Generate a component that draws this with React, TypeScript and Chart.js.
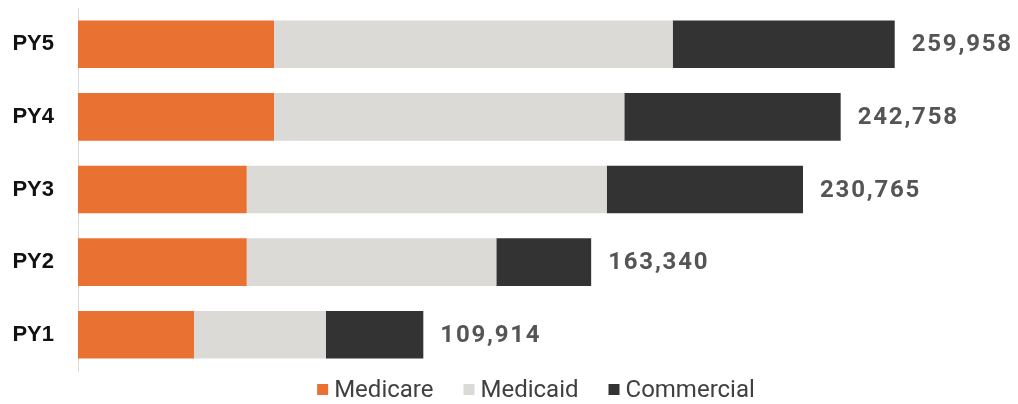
import React, { useEffect, useRef } from "react";
import { Chart, registerables } from "chart.js";

Chart.register(...registerables);

const categories = ["PY5", "PY4", "PY3", "PY2", "PY1"];
const medicare = [62390, 62390, 53700, 53700, 36920];
const medicaid = [126900, 111500, 114590, 79450, 42020];
const commercial = [70668, 68868, 62475, 30190, 30974];
const totals = [259958, 242758, 230765, 163340, 109914];
const seriesNames = ["Medicare", "Medicaid", "Commercial"];
const seriesColors = ["#E97132", "#DCDAD7", "#333333"];

const totalsPlugin = {
  id: "totalsLabels",
  afterDatasetsDraw(chart: any) {
    const ctx = chart.ctx;
    const meta = chart.getDatasetMeta(chart.data.datasets.length - 1);
    ctx.save();
    ctx.font = "bold 24px Roboto";
    (ctx as any).letterSpacing = "1.8px";
    ctx.fillStyle = "#555555";
    ctx.textAlign = "left";
    ctx.textBaseline = "middle";
    meta.data.forEach((el: any, i: number) => {
      ctx.fillText(totals[i].toLocaleString("en-US"), el.x + 17, el.y + 1);
    });
    ctx.restore();
  },
};

const legendPlugin = {
  id: "customLegend",
  afterDraw(chart: any) {
    const ctx = chart.ctx;
    ctx.save();
    ctx.font = "24px Roboto";
    const box = 11;
    const gapText = 6;
    const gapItem = 30;
    const items = chart.data.datasets.map((d: any) => ({
      label: d.label,
      color: d.backgroundColor,
      w: ctx.measureText(d.label).width,
    }));
    const total =
      items.reduce((s: number, it: any) => s + box + gapText + it.w, 0) +
      gapItem * (items.length - 1);
    let x = chart.width / 2 + 27 - total / 2;
    const baseline = chart.height - 7;
    items.forEach((it: any) => {
      ctx.fillStyle = it.color;
      ctx.fillRect(x, baseline - 13, box, box);
      x += box + gapText;
      ctx.fillStyle = "#404040";
      ctx.textBaseline = "alphabetic";
      ctx.fillText(it.label, x, baseline);
      x += it.w + gapItem;
    });
    ctx.restore();
  },
};

export default function App() {
  const canvasRef = useRef<HTMLCanvasElement | null>(null);

  useEffect(() => {
    document.body.style.margin = "0";
    const canvas = canvasRef.current;
    if (!canvas) return;
    const chart = new Chart(canvas, {
      type: "bar",
      data: {
        labels: categories,
        datasets: [medicare, medicaid, commercial].map((values, i) => ({
          label: seriesNames[i],
          data: values,
          backgroundColor: seriesColors[i],
          borderWidth: 0,
          categoryPercentage: 1,
          barPercentage: 0.655,
        })),
      },
      options: {
        indexAxis: "y",
        animation: false,
        responsive: true,
        maintainAspectRatio: false,
        layout: { padding: { top: 8, bottom: 33, left: 0, right: 0 } },
        plugins: {
          legend: { display: false },
          tooltip: { enabled: false },
        },
        scales: {
          x: {
            stacked: true,
            display: false,
            min: 0,
            max: 299200,
          },
          y: {
            stacked: true,
            grid: { display: false, drawTicks: true, tickLength: 24 },
            border: { display: true, color: "#D9D9D9", width: 1 },
            ticks: {
              padding: 0,
              color: "#111111",
              font: {
                family: "'Liberation Sans', Arial, sans-serif",
                size: 22,
                weight: "bold",
                lineHeight: 0.5,
              },
            },
            afterFit(scale: any) {
              scale.width = 78;
            },
          },
        },
      },
      plugins: [totalsPlugin, legendPlugin],
    });
    return () => chart.destroy();
  }, []);

  return (
    <div style={{ width: 1018, height: 404, position: "relative" }}>
      <canvas ref={canvasRef} />
    </div>
  );
}
